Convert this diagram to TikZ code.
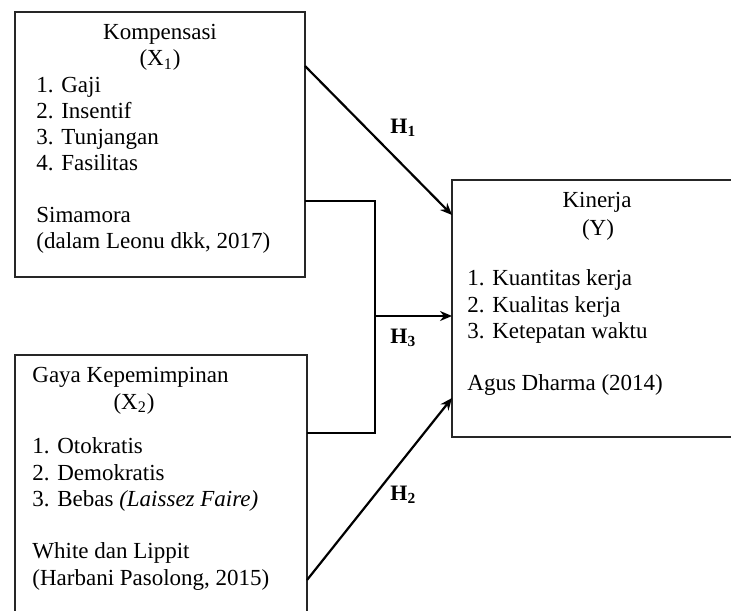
\documentclass[tikz,border=0pt]{standalone}
\usepackage{fontspec}
\setmainfont{Liberation Serif}
\usetikzlibrary{fit,arrows.meta}
\begin{document}
\begin{tikzpicture}[x=0.5pt,y=-0.5pt,
  box/.style={draw=black!85,line width=0.7pt,inner sep=0pt,outer sep=0pt},
  txt/.style={anchor=base west,inner sep=0pt,font=\fontsize{11.5pt}{13pt}\selectfont},
  ctxt/.style={anchor=base,inner sep=0pt,font=\fontsize{11.5pt}{13pt}\selectfont},
  hlab/.style={anchor=base west,inner sep=0pt,font=\fontsize{11pt}{13pt}\selectfont\bfseries},
  arr/.style={line width=1.1pt,-{Stealth[length=6pt,width=5pt]}},
  link/.style={line width=0.55pt}]
\useasboundingbox (0,0) rectangle (731,610);
\clip (0,0) rectangle (731,610);
% boxes
\node[box,fit={(15,12) (305,277)}] (b1) {};
\node[box,fit={(15,355) (307,660)}] (b2) {};
\node[box,fit={(452,180) (780,437)}] (bY) {};
% box 1 text
\node[ctxt] (k1) at (160,40) {Kompensasi};
\node[ctxt] (k2) at (160,66) {(X\textsubscript{1})};
\node[txt] (k3) at (36,92) {1. Gaji};
\node[txt] (k4) at (36,118) {2. Insentif};
\node[txt] (k5) at (36,144) {3. Tunjangan};
\node[txt] (k6) at (36,170) {4. Fasilitas};
\node[txt] (k7) at (36,222) {Simamora};
\node[txt] (k8) at (36,248) {(dalam Leonu dkk, 2017)};
% box 2 text
\node[txt] (g1) at (32,382) {Gaya Kepemimpinan};
\node[ctxt] (g2) at (134,409) {(X\textsubscript{2})};
\node[txt] (g3) at (32,453) {1. Otokratis};
\node[txt] (g4) at (32,480) {2. Demokratis};
\node[txt] (g5) at (32,506) {3. Bebas \textit{(Laissez Faire)}};
\node[txt] (g6) at (32,558) {White dan Lippit};
\node[txt] (g7) at (32,585) {(Harbani Pasolong, 2015)};
% box Y text
\node[ctxt] (y1) at (597,207) {Kinerja};
\node[ctxt] (y2) at (598,235) {(Y)};
\node[txt] (y3) at (467,285) {1. Kuantitas kerja};
\node[txt] (y4) at (467,312) {2. Kualitas kerja};
\node[txt] (y5) at (467,338) {3. Ketepatan waktu};
\node[txt] (y6) at (467,390) {Agus Dharma (2014)};
% connector points
\coordinate (h1a) at (305,66);
\coordinate (h1b) at (452,215);
\coordinate (h2a) at (307,580);
\coordinate (h2b) at (452,398);
\coordinate (j1) at (375,201);
\coordinate (j2) at (375,433);
\coordinate (h3) at (375,316);
% connectors
\draw[arr] (b1.east|-h1a) -- (bY.west|-h1b);
\draw[arr] (b2.east|-h2a) -- (bY.west|-h2b);
\draw[link] (b1.east|-j1) -- (j1) -- (j2) -- (b2.east|-j2);
\draw[arr] (h3) -- (bY.west|-h3);
% labels
\node[hlab] (l1) at (390,133) {H\textsubscript{1}};
\node[hlab] (l3) at (390,343) {H\textsubscript{3}};
\node[hlab] (l2) at (390,500) {H\textsubscript{2}};
\end{tikzpicture}
\end{document}
